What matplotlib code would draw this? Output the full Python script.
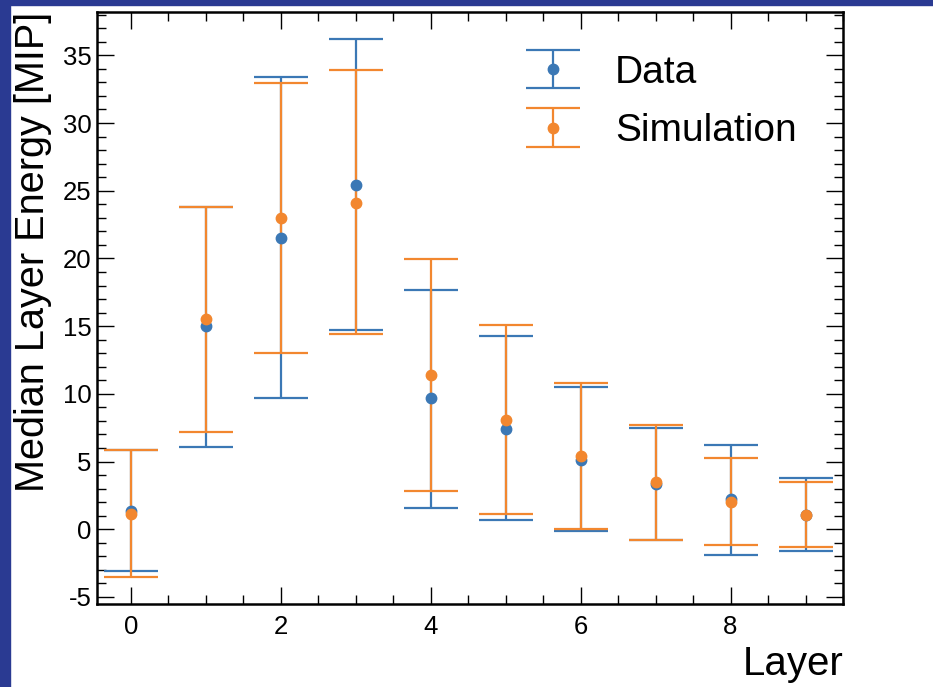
import matplotlib
matplotlib.use("Agg")
import matplotlib.pyplot as plt
from matplotlib.patches import Rectangle
from matplotlib.legend_handler import HandlerErrorbar
import numpy as np

plt.rcParams['font.family'] = ['Liberation Sans', 'DejaVu Sans']
plt.rcParams['axes.unicode_minus'] = False

layers = [0, 1, 2, 3, 4, 5, 6, 7, 8, 9]
data_median = [1.35, 15.0, 21.5, 25.45, 9.67, 7.44, 5.15, 3.32, 2.2, 1.08]
data_low = [-3.1, 6.1, 9.7, 14.7, 1.55, 0.66, -0.12, -0.81, -1.92, -1.62]
data_high = [5.89, 23.8, 33.4, 36.17, 17.65, 14.25, 10.5, 7.48, 6.23, 3.77]
sim_median = [1.16, 15.5, 22.95, 24.1, 11.37, 8.1, 5.39, 3.49, 2.0, 1.08]
sim_low = [-3.52, 7.2, 13.0, 14.4, 2.8, 1.16, 0.05, -0.81, -1.18, -1.3]
sim_high = [5.83, 23.78, 32.96, 33.9, 19.94, 15.07, 10.83, 7.68, 5.27, 3.47]

blue = '#3b78b5'
orange = '#f2872f'

fig = plt.figure(figsize=(9.33, 6.87), dpi=100)
fig.patches.append(Rectangle((0, 1 - 5 / 687), 1, 5 / 687, transform=fig.transFigure,
                             color='#2a3a92', zorder=-10))
fig.patches.append(Rectangle((0, 0), 10 / 933, 1, transform=fig.transFigure,
                             color='#2a3a92', zorder=-10))

ax = fig.add_axes([97 / 933, 1 - 604 / 687, 746 / 933, 592 / 687])

x = np.array(layers)
dm = np.array(data_median)
sm = np.array(sim_median)
derr = [dm - np.array(data_low), np.array(data_high) - dm]
serr = [sm - np.array(sim_low), np.array(sim_high) - sm]

ax.errorbar(x, dm, yerr=derr, fmt='o', color=blue, ecolor=blue, capsize=19.5,
            elinewidth=1.6, capthick=1.6, markersize=7.5, label='Data')
ax.errorbar(x, sm, yerr=serr, fmt='o', color=orange, ecolor=orange, capsize=19.5,
            elinewidth=1.6, capthick=1.6, markersize=7.5, label='Simulation')

ax.set_xlim(-0.45, 9.49)
ax.set_ylim(-5.52, 38.2)
ax.set_xticks([0, 2, 4, 6, 8])
ax.set_xticks(np.arange(-0.0, 9.6, 0.5), minor=True)
ax.set_yticks([-5, 0, 5, 10, 15, 20, 25, 30, 35])
ax.set_yticks(np.arange(-5, 39, 1), minor=True)
ax.tick_params(which='both', direction='in', top=True, right=True, labelsize=18.5, width=1.0)
ax.tick_params(which='major', length=12)
ax.tick_params(axis='y', which='major', pad=4)
ax.tick_params(axis='x', which='major', pad=8)
ax.tick_params(which='minor', length=6.5)
for s in ax.spines.values():
    s.set_linewidth(1.8)

ax.set_ylabel('Median Layer Energy [MIP]', fontsize=28.5, loc='top', labelpad=8)
ax.set_xlabel('Layer', fontsize=29, loc='right', labelpad=4)

ax.legend(loc='upper left', bbox_to_anchor=(0.559, 0.928), frameon=False, fontsize=28,
          borderpad=0, borderaxespad=0, labelspacing=0.58, handlelength=2.0, handletextpad=0.6,
          handler_map={type(ax.containers[0]): HandlerErrorbar(xerr_size=0.5)})

fig.savefig('out.png', dpi=100)
